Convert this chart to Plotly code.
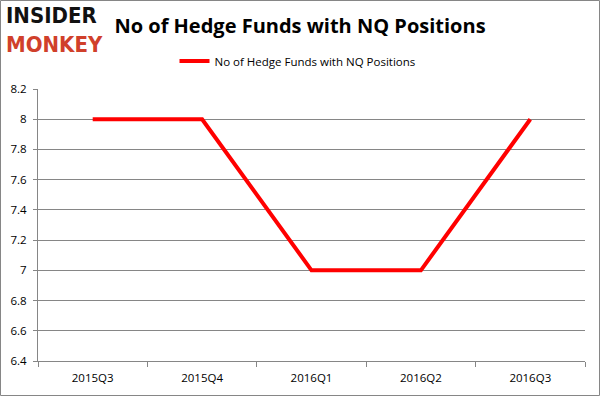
import plotly.graph_objects as go

categories = ["2015Q3", "2015Q4", "2016Q1", "2016Q2", "2016Q3"]
hedge_funds = [8, 8, 7, 7, 8]
series_name = "No of Hedge Funds with NQ Positions"
y_ticks = [6.4, 6.6, 6.8, 7.0, 7.2, 7.4, 7.6, 7.8, 8.0, 8.2]
y_tick_labels = ["6.4", "6.6", "6.8", "7", "7.2", "7.4", "7.6", "7.8", "8", "8.2"]

W, H = 600, 396
ML, MR, MT, MB = 38, 15, 89, 35
pw, ph = W - ML - MR, H - MT - MB

fig = go.Figure()
fig.add_trace(go.Scatter(
    x=categories, y=hedge_funds, mode="lines", name=series_name,
    line=dict(color="#ff0000", width=4),
))

font_main = "Open Sans, Noto Sans, sans-serif"
fig.update_layout(
    width=W, height=H,
    margin=dict(l=ML, r=MR, t=MT, b=MB, autoexpand=False),
    paper_bgcolor="white", plot_bgcolor="white",
    showlegend=True,
    legend=dict(orientation="h", x=(297.5 - ML) / pw, xanchor="center", y=1.0 + 28 / ph, yanchor="middle",
                font=dict(family=font_main, size=11.5, color="#000000"),
                bgcolor="rgba(0,0,0,0)"),
    title=dict(text="<b>No of Hedge Funds with NQ Positions</b>", x=0.5, xanchor="center",
               y=1 - 26 / H, yanchor="middle",
               font=dict(family=font_main, size=20, color="#000000")),
    xaxis=dict(type="category", range=[-0.5, 4.5], showgrid=False,
               showline=True, linecolor="#868686", linewidth=1,
               ticks="outside", tickson="boundaries", ticklen=5, tickcolor="#868686",
               ticklabelstandoff=6,
               tickfont=dict(family=font_main, size=11.5, color="#000000"),
               fixedrange=True),
    yaxis=dict(range=[6.4, 8.2], tickvals=y_ticks, ticktext=y_tick_labels,
               showgrid=True, gridcolor="#868686", gridwidth=1,
               showline=True, linecolor="#868686", linewidth=1,
               ticks="outside", ticklen=4, tickcolor="#868686",
               ticklabelstandoff=4,
               tickfont=dict(family=font_main, size=11.5, color="#000000"),
               zeroline=False, fixedrange=True),
)

# Logo (single two-line text)
fig.add_annotation(text="<b>INSIDER</b><br><b><span style='color:#d0402b'>MONKEY</span></b>",
                   xref="paper", yref="paper",
                   x=-(ML - 4) / pw, y=1 + (MT - 30) / ph, xanchor="left", yanchor="middle",
                   align="left", showarrow=False,
                   font=dict(family="DejaVu Sans Condensed, DejaVu Sans, sans-serif", size=22, color="#111111"))

# Outer border
fig.add_shape(type="rect", xref="paper", yref="paper",
              x0=-(ML - 0.5) / pw, x1=1 + (MR - 0.5) / pw,
              y0=-(MB - 0.5) / ph, y1=1 + (MT - 0.5) / ph,
              line=dict(color="#868686", width=1), fillcolor="rgba(0,0,0,0)", layer="below")

fig.write_html("out.html", config={"displayModeBar": False},
               post_script="document.body.style.margin='0';")
